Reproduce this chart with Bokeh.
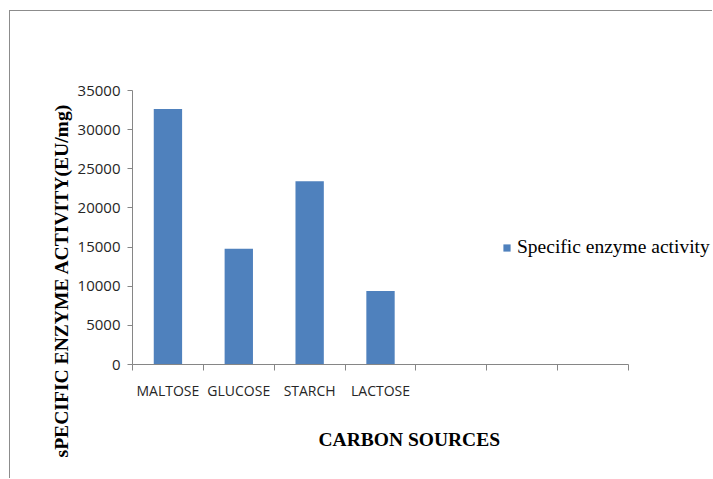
from bokeh.plotting import figure
from bokeh.models import Range1d, FixedTicker, Legend, LegendItem, Title
from bokeh.embed import file_html
from bokeh.resources import INLINE

# Specific enzyme activity (EU/mg) per carbon source
categories = ["MALTOSE", "GLUCOSE", "STARCH", "LACTOSE"]
activity = [32650, 14800, 23400, 9400]
n_slots = 7                      # axis keeps room for seven category slots
y_ticks = [0, 5000, 10000, 15000, 20000, 25000, 30000, 35000]

series_name = "Specific enzyme activity"
x_title = "CARBON SOURCES"
y_title = "sPECIFIC ENZYME ACTIVITY(EU/mg)"

# the figure sits inside a thin chart-area border (top and left edges)
OFF_X, OFF_Y = 10, 11
W, H = 713 - OFF_X, 479 - OFF_Y
left, top, bottom = 132 - OFF_X, 90 - OFF_Y, 115
slot_px = 70.86
frame_w = W - left

p = figure(width=W, height=H, output_backend="svg", toolbar_location=None,
           x_range=Range1d(0, frame_w / slot_px), y_range=Range1d(0, 35000),
           min_border_left=left, min_border_top=top,
           min_border_bottom=bottom, min_border_right=0,
           styles={"margin-left": "9px", "margin-top": "10px",
                   "border-left": "1px solid #8c8c8c",
                   "border-top": "1px solid #8c8c8c"})
p.outline_line_color = None
p.grid.visible = False
p.background_fill_color = "white"
p.border_fill_color = "white"

xs = [i + 0.5 for i in range(len(categories))]
bars = p.vbar(x=xs, top=activity, width=0.4, bottom=0,
              fill_color="#4F81BD", line_color=None)

# x axis: labels at slot centres, tick marks at slot boundaries
xa = p.xaxis[0]
xa.ticker = FixedTicker(ticks=xs, minor_ticks=list(range(n_slots + 1)))
xa.major_label_overrides = {x: c for x, c in zip(xs, categories)}
xa.bounds = (0, n_slots)
xa.major_tick_out = 0
xa.major_tick_in = 0
xa.minor_tick_out = 6
xa.minor_tick_in = 0
xa.minor_tick_line_color = "#868686"
xa.axis_line_color = "#868686"
xa.major_label_standoff = 10
xa.major_label_text_font = "Open Sans"
xa.major_label_text_font_size = "14px"
xa.major_label_text_color = "#262626"

ya = p.yaxis[0]
ya.ticker = FixedTicker(ticks=y_ticks)
ya.major_label_overrides = {t: str(t) for t in y_ticks}
ya.bounds = (0, 35000)
ya.major_tick_out = 5
ya.major_tick_in = 0
ya.minor_tick_line_color = None
ya.major_tick_line_color = "#868686"
ya.axis_line_color = "#868686"
ya.major_label_standoff = 7
ya.major_label_text_font = "Open Sans"
ya.major_label_text_font_size = "15px"
ya.major_label_text_color = "#262626"

# axis titles
p.add_layout(Title(text=x_title, align="left", offset=186, standoff=48,
                   text_font="Liberation Serif", text_font_style="bold",
                   text_font_size="19.5px", text_color="black"), "below")
p.add_layout(Title(text=y_title, align="left", offset=-93, standoff=6,
                   text_font="Liberation Serif", text_font_style="bold",
                   text_font_size="19.6px", text_color="black"), "left")

legend = Legend(items=[LegendItem(label=series_name, renderers=[bars])],
                location=(370, 106), padding=0, margin=0, spacing=0,
                glyph_width=9, glyph_height=9, label_standoff=6,
                border_line_color=None, background_fill_alpha=0,
                label_text_font="Liberation Serif",
                label_text_font_size="19.5px", label_text_color="black")
p.add_layout(legend)

open("out.html", "w").write(file_html(p, INLINE))
